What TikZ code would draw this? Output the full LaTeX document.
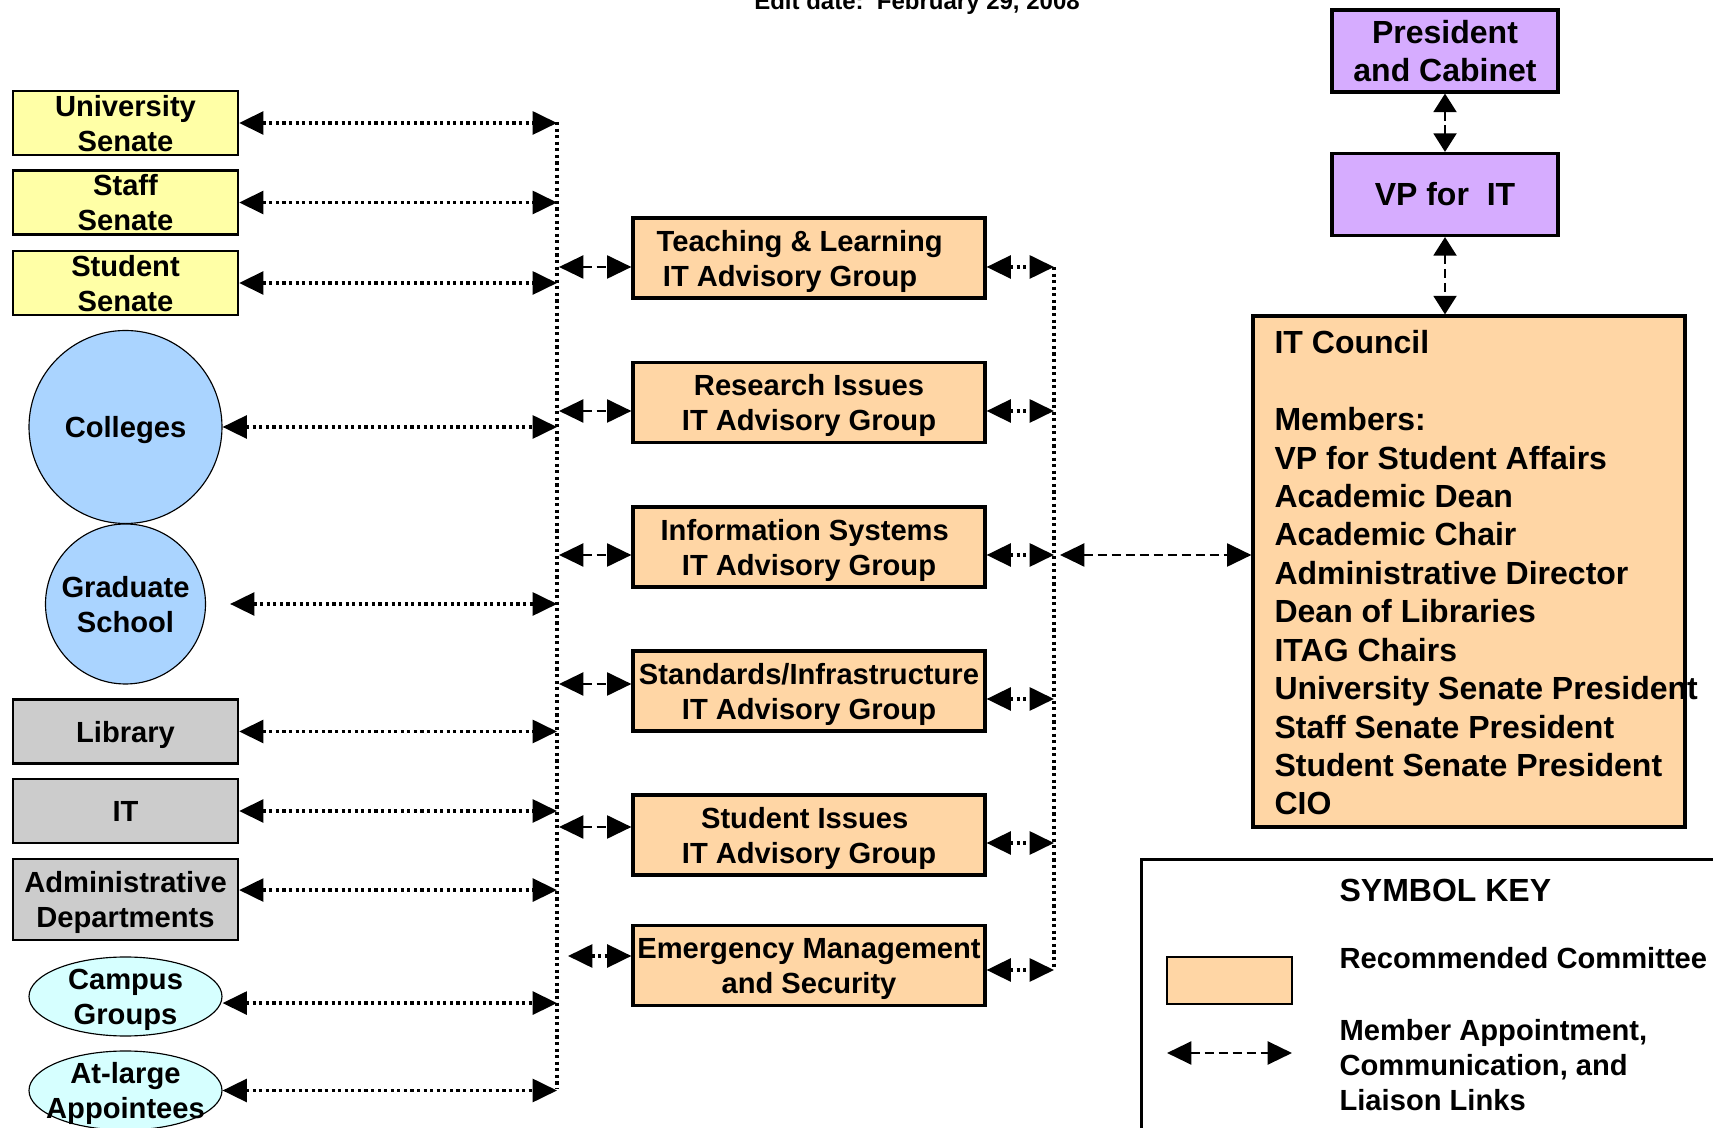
\documentclass[tikz,border=0pt]{standalone}
\usepackage{fontspec}
\setmainfont{Liberation Sans}
\usetikzlibrary{arrows.meta}
\usetikzlibrary{shapes.geometric}
\definecolor{senateyellow}{RGB}{255,255,166}
\definecolor{unitgray}{RGB}{204,204,204}
\definecolor{schoolblue}{RGB}{170,212,255}
\definecolor{groupcyan}{RGB}{214,255,255}
\definecolor{committeeorange}{RGB}{255,214,165}
\definecolor{execpurple}{RGB}{214,172,255}

\begin{document}
\begin{tikzpicture}[x=35pt,y=35pt]
      \useasboundingbox (0,0) rectangle (17.13,-11.28);
      % Styles
      \tikzstyle{txt}=[font=\bfseries\fontsize{10.2}{12.25}\selectfont, align=center, text depth=0pt]
      \tikzstyle{bigtxt}=[font=\bfseries\fontsize{11.2}{13.3}\selectfont]
      % boxes on the left
      \tikzstyle{senatebox}=[
        txt, rectangle, draw, line width=0.8pt,
        fill=senateyellow,
        minimum width=78.75pt, minimum height=22.4pt,
        inner sep=0pt
      ]
      \tikzstyle{unitbox}=[senatebox, fill=unitgray]
      \tikzstyle{schoolcircle}=[txt, circle, draw, line width=0.4pt, fill=schoolblue, inner sep=0pt]
      \tikzstyle{groupellipse}=[
        ellipse, draw, line width=0.4pt,
        fill=groupcyan,
        minimum width=67.55pt, minimum height=27.65pt,
        inner sep=0pt
      ]
      % advisory groups
      \tikzstyle{itagbox}=[
        txt, rectangle, draw, line width=1.1pt,
        fill=committeeorange,
        minimum width=123.2pt, minimum height=28pt,
        inner sep=0pt
      ]
      \tikzstyle{execbox}=[
        bigtxt, align=center, rectangle, draw, line width=1.1pt,
        fill=execpurple,
        minimum width=79.1pt, minimum height=28.7pt,
        inner sep=0pt
      ]
      % links
      \tikzstyle{linkbase}=[{Triangle[length=8.5pt,width=8pt]}-{Triangle[length=8.5pt,width=8pt]}, line width=0.9pt]
      \tikzstyle{dotlink}=[linkbase, line width=1.1pt, dash pattern=on 1.1pt off 1.2pt]
      \tikzstyle{dashlink}=[linkbase, dash pattern=on 3.2pt off 1.7pt]
      \tikzstyle{vlink}=[{Triangle[length=6.5pt,width=8pt]}-{Triangle[length=6.5pt,width=8pt]}, line width=0.9pt, dash pattern=on 3.2pt off 1.7pt]
      \tikzstyle{busline}=[line width=1.1pt, dash pattern=on 1.1pt off 1.2pt]

      % title
      \node[font=\bfseries\fontsize{8.4}{10}\selectfont, anchor=base] (editdate) at (9.17,-0.10) {Edit date:~~February 29, 2008};

      % senates
      \node[senatebox] (unisen) at (1.255,-1.23) {University\\Senate};
      \node[senatebox] (staffsen) at (1.255,-2.025) {Staff\\Senate};
      \node[senatebox] (studsen) at (1.255,-2.83) {Student\\Senate};

      % colleges and schools
      \node[schoolcircle, minimum size=67.55pt] (colleges) at (1.255,-4.27) {Colleges};
      \node[schoolcircle, minimum size=56pt] (grad) at (1.255,-6.04) {Graduate\\School};

      % units
      \node[unitbox] (library) at (1.255,-7.315) {Library};
      \node[unitbox] (it) at (1.255,-8.11) {IT};
      \node[unitbox, minimum height=28.4pt] (admin) at (1.255,-8.995) {Administrative\\Departments};

      % groups
      \node[groupellipse, label={[txt]center:{Campus\\Groups}}] (campus) at (1.255,-9.965) {};
      \node[groupellipse, label={[txt]center:{At-large\\Appointees}}] (atlarge) at (1.255,-10.905) {};

      % IT advisory groups
      \node[itagbox] (teach) at (8.09,-2.58) {Teaching \& Learning\hspace*{6.5pt}\\IT Advisory Group\hspace*{13.3pt}};
      \node[itagbox] (research) at (8.09,-4.025) {Research Issues\\IT Advisory Group};
      \node[itagbox] (infosys) at (8.09,-5.47) {Information Systems\hspace*{3pt}\\IT Advisory Group};
      \node[itagbox] (standards) at (8.09,-6.91) {Standards/Infrastructure\\IT Advisory Group};
      \node[itagbox] (student) at (8.09,-8.35) {Student Issues\hspace*{3pt}\\IT Advisory Group};
      \node[itagbox] (emergency) at (8.09,-9.655) {Emergency Management\\and Security};

      % president, VP and council
      \node[execbox] (president) at (14.45,-0.51) {President\\and Cabinet};
      \node[execbox] (vp) at (14.45,-1.945) {VP for~~IT};
      \node[rectangle, draw, line width=1.1pt, fill=committeeorange, minimum width=151.2pt, minimum height=178.85pt] (council) at (14.69,-5.715) {};
      \node[font=\bfseries\fontsize{11.2}{13.45}\selectfont, align=left, anchor=north west, inner sep=0pt] (members) at (12.74,-3.30) {IT Council\\~\\Members:\\VP for Student Affairs\\Academic Dean\\Academic Chair\\Administrative Director\\Dean of Libraries\\ITAG Chairs\\University Senate President\\Staff Senate President\\Student Senate President\\CIO};

      % symbol key
      \node[draw, line width=0.9pt, anchor=north west, minimum width=245pt, minimum height=105pt] (key) at (11.40,-8.58) {};
      \node[bigtxt, anchor=west, inner sep=0pt] (keytitle) at (13.39,-8.90) {SYMBOL KEY};
      \node[draw, line width=0.5pt, fill=committeeorange, minimum width=43.75pt, minimum height=16.45pt, inner sep=0pt] (keybox) at (12.295,-9.805) {};
      \node[txt, anchor=west, inner sep=0pt] (keyboxtxt) at (13.39,-9.58) {Recommended Committee};
      \coordinate (keyL) at (11.67,-10.53);
      \coordinate (keyR) at (12.92,-10.53);
      \draw[dashlink] (keyL) -- (keyR);
      \node[txt, align=left, anchor=west, inner sep=0pt] (keylinktxt) at (13.39,-10.65) {Member Appointment,\\Communication, and\\Liaison Links};

      % left bus
      \coordinate (busTop) at (5.57,-1.22);
      \coordinate (busBot) at (5.57,-10.89);
      \draw[busline] (busTop) -- (busBot);
      \foreach \n/\s in {unisen/0, staffsen/0, studsen/0, colleges/0, library/0, it/0, admin/3.3, campus/-2.3, atlarge/0}{
        \path ([yshift=\s pt]\n.east) coordinate (\n-l);
        \draw[dotlink] (\n-l) -- (\n-l -| busTop);
      }
      \draw[dotlink, shorten <=8.4pt] (grad.east) -- (grad.east -| busTop);

      % bus to advisory groups
      \foreach \n/\y in {teach/2.67, research/4.11, infosys/5.55, standards/6.84, student/8.27}{
        \coordinate (\n-a) at (5.59,-\y);
        \draw[dashlink] (\n-a) -- (\n-a -| \n.west);
      }
      \coordinate (emergency-a) at (5.68,-9.56);
      \draw[dotlink] (emergency-a) -- (emergency-a -| emergency.west);

      % advisory groups to right bus
      \foreach \n/\y in {teach/2.67, research/4.11, infosys/5.55, standards/6.99, student/8.43, emergency/9.70}{
        \coordinate (\n-b) at (10.54,-\y);
        \draw[dotlink] (\n-b -| \n.east) -- (\n-b);
      }
      \draw[busline] (teach-b) -- (emergency-b);

      % right bus to council
      \coordinate (infosys-c) at (10.60,-5.55);
      \draw[dashlink] (infosys-c) -- (infosys-c -| council.west);

      % president - VP - council
      \draw[vlink] (president.south) -- (vp.north);
      \draw[vlink] (vp.south) -- (vp.south |- council.north);
\end{tikzpicture}
\end{document}
